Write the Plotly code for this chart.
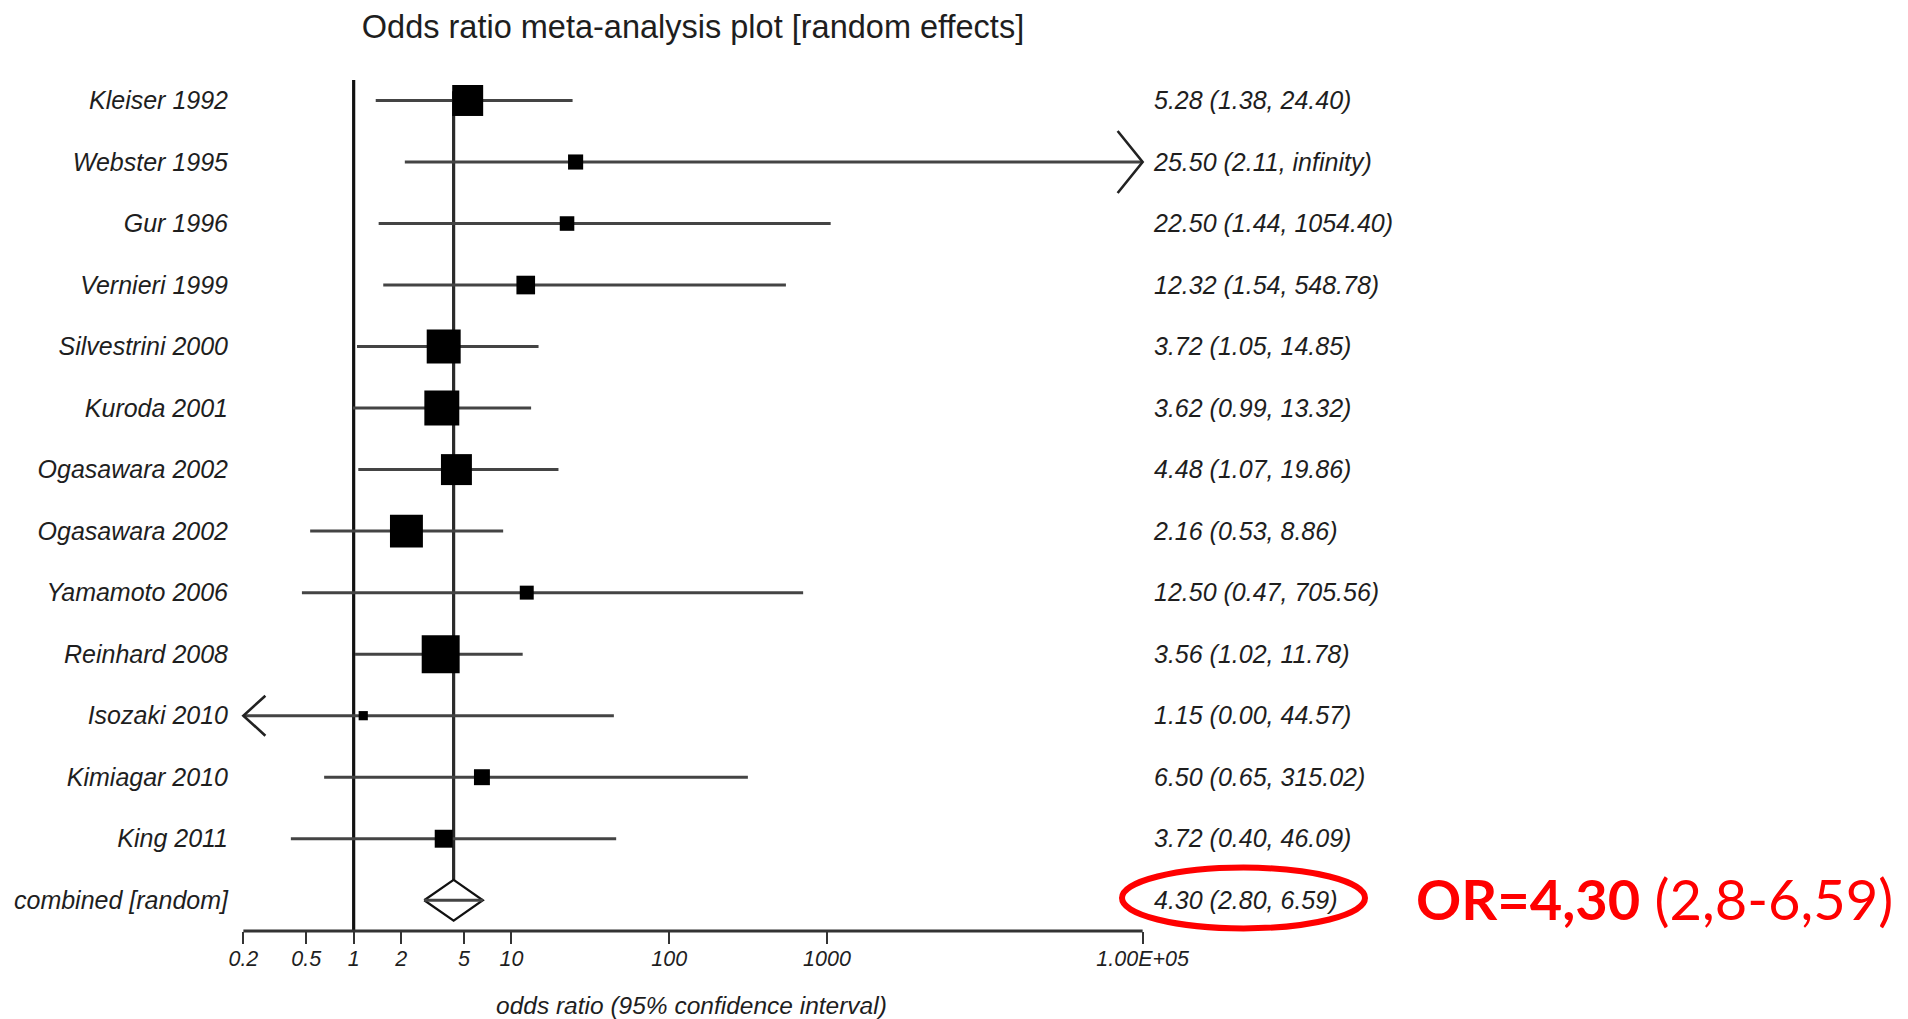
import math
import plotly.graph_objects as go

# ---------------- data ----------------
studies = ["Kleiser 1992", "Webster 1995", "Gur 1996", "Vernieri 1999",
           "Silvestrini 2000", "Kuroda 2001", "Ogasawara 2002", "Ogasawara 2002",
           "Yamamoto 2006", "Reinhard 2008", "Isozaki 2010", "Kimiagar 2010",
           "King 2011"]
odds_ratio = [5.28, 25.50, 22.50, 12.32, 3.72, 3.62, 4.48, 2.16, 12.50, 3.56, 1.15, 6.50, 3.72]
ci_low = [1.38, 2.11, 1.44, 1.54, 1.05, 0.99, 1.07, 0.53, 0.47, 1.02, 0.00, 0.65, 0.40]
ci_high = [24.40, float("inf"), 1054.40, 548.78, 14.85, 13.32, 19.86, 8.86, 705.56,
           11.78, 44.57, 315.02, 46.09]
weights = [11.3, 2.7, 2.5, 4.1, 13.6, 14.4, 11.3, 12.8, 2.3, 17.0, 1.0, 3.0, 3.8]  # % (estimated)

pooled_label = "combined [random]"
pooled_or = 4.30
pooled_low = 2.80
pooled_high = 6.59

tick_values = [0.2, 0.5, 1, 2, 5, 10, 100, 1000, 1e5]
tick_labels = ["0.2", "0.5", "1", "2", "5", "10", "100", "1000", "1.00E+05"]
x_min, x_max = 0.2, 1e5

chart_title = "Odds ratio meta-analysis plot [random effects]"
x_title = "odds ratio (95% confidence interval)"
highlight_bold = "OR=4,30"
highlight_rest = " (2,8-6,59)"

# ---------------- layout geometry ----------------
W, H = 1908, 1019
ML, MR, MT, MB = 241, 763, 80, 88
pad = 0.015
xr = [math.log10(x_min) - pad, math.log10(x_max) + pad]
yr = [13.5, -0.333]
plot_w = W - ML - MR
plot_h = H - MT - MB
px_per_decade = plot_w / (xr[1] - xr[0])
px_per_row = plot_h / (yr[0] - yr[1])

FONT = "Liberation Sans"
TXT = "#1e1e1e"

n = len(studies)
rows = list(range(n))
pooled_row = n


def fmt(v):
    return "infinity" if math.isinf(v) else f"{v:.2f}"


right_text = [f"{o:.2f} ({fmt(l)}, {fmt(h)})" for o, l, h in zip(odds_ratio, ci_low, ci_high)]
right_text.append(f"{pooled_or:.2f} ({fmt(pooled_low)}, {fmt(pooled_high)})")

fig = go.Figure()

# pooled-estimate vertical line
fig.add_trace(go.Scatter(x=[pooled_or, pooled_or], y=[-0.15, pooled_row - 0.33],
                         mode="lines", line=dict(color="#2a2a2a", width=3.2),
                         hoverinfo="skip"))

# pooled diamond (below the CI line)
dh = 0.33
fig.add_trace(go.Scatter(x=[pooled_low, pooled_or, pooled_high, pooled_or, pooled_low],
                         y=[pooled_row, pooled_row - dh, pooled_row, pooled_row + dh, pooled_row],
                         mode="lines", fill="toself", fillcolor="white",
                         line=dict(color="#111111", width=2.2), hoverinfo="skip"))

# CI lines
lx, ly = [], []
for i, (l, h) in enumerate(zip(ci_low, ci_high)):
    lo = max(l, x_min)
    hi = min(h, x_max)
    lx += [lo, hi, None]
    ly += [i, i, None]
lx += [pooled_low, pooled_high, None]
ly += [pooled_row, pooled_row, None]
fig.add_trace(go.Scatter(x=lx, y=ly, mode="lines", line=dict(color="#444444", width=3),
                         hoverinfo="skip"))

# arrowheads for bounds beyond the axis
ax, ay = [], []
for i, (l, h) in enumerate(zip(ci_low, ci_high)):
    if h > x_max:
        arm_x = 10 ** (math.log10(x_max) - 25 / px_per_decade)
        dy = 31 / px_per_row
        ax += [arm_x, x_max, arm_x, None]
        ay += [i - dy, i, i + dy, None]
    if l < x_min:
        arm_x = 10 ** (math.log10(x_min) + 22 / px_per_decade)
        dy = 20 / px_per_row
        ax += [arm_x, x_min, arm_x, None]
        ay += [i - dy, i, i + dy, None]
fig.add_trace(go.Scatter(x=ax, y=ay, mode="lines", line=dict(color="#222222", width=2.6),
                         hoverinfo="skip"))

# study squares (area proportional to weight)
sizes = [math.sqrt(w / 100 * 8478) for w in weights]
fig.add_trace(go.Scatter(x=odds_ratio, y=rows, mode="markers",
                         marker=dict(symbol="square", color="black", size=sizes,
                                     opacity=1, line=dict(width=0)),
                         cliponaxis=False, hoverinfo="skip"))

# invisible trace on the right-hand axis
fig.add_trace(go.Scatter(x=[1], y=[0], yaxis="y2", mode="markers",
                         marker=dict(opacity=0), hoverinfo="skip"))

# line of no effect and axis line
fig.add_shape(type="line", xref="x", yref="paper", x0=1, x1=1, y0=0, y1=1,
              line=dict(color="#111111", width=3.2), layer="below")
fig.add_shape(type="line", xref="x", yref="paper", x0=x_min, x1=x_max, y0=0, y1=0,
              line=dict(color="#333333", width=3))

# red highlight ellipse
ex0, ex1 = 1122, 1365
ey0, ey1 = 867.6, 928.4
fig.add_shape(type="circle", xref="paper", yref="paper",
              x0=(ex0 - ML) / plot_w, x1=(ex1 - ML) / plot_w,
              y0=(H - MB - ey1) / plot_h, y1=(H - MB - ey0) / plot_h,
              line=dict(color="#ff0000", width=6))

fig.add_annotation(xref="paper", yref="y", x=(1414 - ML) / plot_w, y=pooled_row - 0.03,
                   xanchor="left", yanchor="middle", showarrow=False,
                   text=f"<b>{highlight_bold}</b>{highlight_rest}",
                   font=dict(family="Lato", size=56, color="#ff0000"))

fig.add_annotation(xref="paper", yref="paper", x=(691 - ML) / plot_w,
                   y=(H - MB - 1005) / plot_h, xanchor="center", yanchor="middle",
                   showarrow=False, text=x_title,
                   font=dict(family=FONT, size=24.5, color=TXT, style="italic"))

fig.update_layout(
    width=W, height=H,
    margin=dict(l=ML, r=MR, t=MT, b=MB, pad=0),
    paper_bgcolor="white", plot_bgcolor="white",
    showlegend=False,
    title=dict(text=chart_title, xref="paper", x=0.5, xanchor="center",
               yref="container", y=1 - 27 / H, yanchor="middle",
               font=dict(family=FONT, size=32.5, color=TXT)),
    xaxis=dict(type="log", range=xr, tickmode="array", tickvals=tick_values,
               ticktext=tick_labels, ticks="outside", ticklen=12, tickwidth=2.4,
               tickcolor="#333333", showgrid=False, zeroline=False, showline=False,
               ticklabelstandoff=-4,
               tickfont=dict(family=FONT, size=21.5, color=TXT, style="italic"),
               fixedrange=True),
    yaxis=dict(range=yr, tickmode="array", tickvals=rows + [pooled_row],
               ticktext=studies + [pooled_label], ticks="", showgrid=False,
               zeroline=False, showline=False, ticklabelstandoff=12,
               tickfont=dict(family=FONT, size=25, color=TXT, style="italic")),
    yaxis2=dict(range=yr, overlaying="y", side="right", tickmode="array",
                tickvals=rows + [pooled_row], ticktext=right_text, ticks="",
                showgrid=False, zeroline=False, showline=False, ticklabelstandoff=8,
                tickfont=dict(family=FONT, size=25, color=TXT, style="italic")),
)

fig.write_html("out.html")
